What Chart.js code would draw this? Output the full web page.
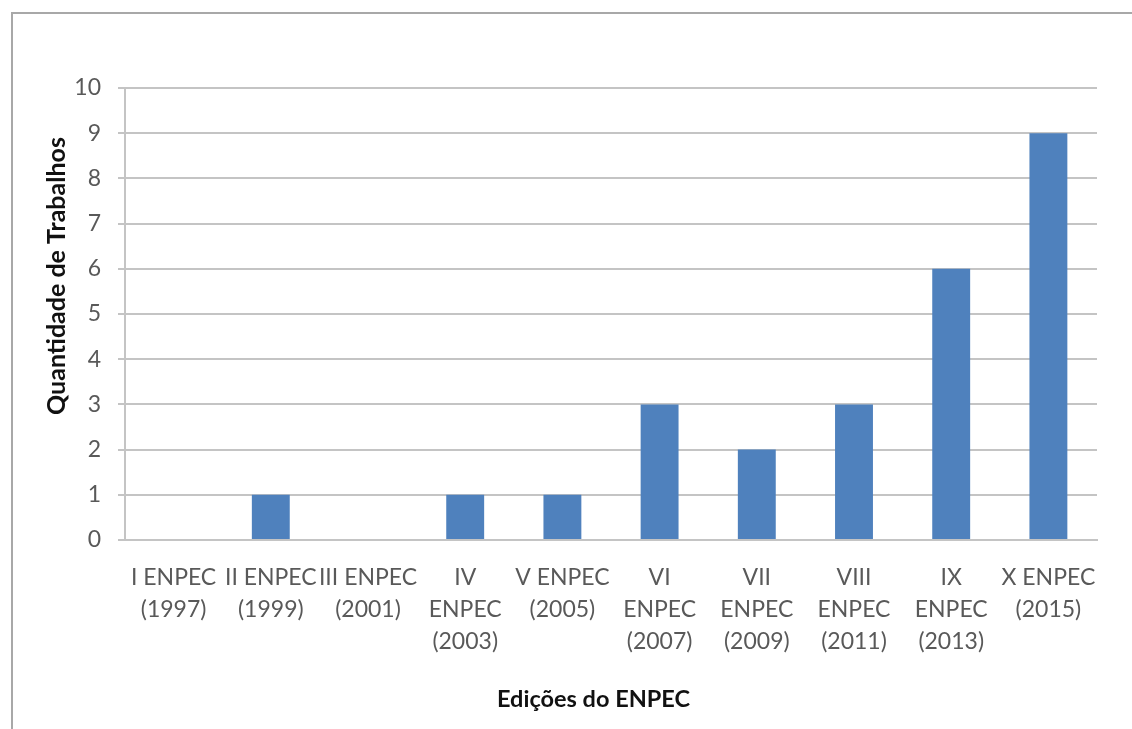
<!DOCTYPE html>
<html>
<head>
<meta charset="utf-8">
<script src="https://cdn.jsdelivr.net/npm/chart.js@4/dist/chart.umd.min.js"></script>
<style>
  html, body { margin: 0; padding: 0; background: #fff; overflow: hidden; }
  #frame {
    position: absolute; left: 11px; top: 12px; width: 1400px; height: 1000px;
    border-left: 2px solid #a8a8a8; border-top: 2px solid #a8a8a8;
  }
  #wrap { position: absolute; left: 0; top: 0; width: 1132px; height: 729px; }
</style>
</head>
<body>
<div id="frame"></div>
<div id="wrap"><canvas id="chart" width="1132" height="729"></canvas></div>
<script>
// categories (multi-line labels)
const editions = [
  ['I ENPEC', '(1997)'],
  ['II ENPEC', '(1999)'],
  ['III ENPEC', '(2001)'],
  ['IV', 'ENPEC', '(2003)'],
  ['V ENPEC', '(2005)'],
  ['VI', 'ENPEC', '(2007)'],
  ['VII', 'ENPEC', '(2009)'],
  ['VIII', 'ENPEC', '(2011)'],
  ['IX', 'ENPEC', '(2013)'],
  ['X ENPEC', '(2015)'],
];

// quantidade de trabalhos per edition
const works = [0, 1, 0, 1, 1, 3, 2, 3, 6, 9];

// y axis
const yMin = 0;
const yMax = 10;
const yStep = 1;

const xTitle = 'Edições do ENPEC';
const yTitle = 'Quantidade de Trabalhos';

const gridColor = '#c4c4c4';
const tickColor = '#595959';

// axis titles sit a bit off-centre in the original, so draw them by hand
const axisTitles = {
  id: 'axisTitles',
  afterDraw(chart) {
    const { ctx, chartArea: area } = chart;
    ctx.save();
    ctx.fillStyle = '#111';
    ctx.textAlign = 'center';
    ctx.textBaseline = 'middle';

    ctx.font = 'bold 23.5px Lato';
    ctx.fillText(xTitle, area.left + (area.right - area.left) * 0.482, 699);

    ctx.font = 'bold 25px Lato';
    ctx.translate(57, area.top + (area.bottom - area.top) * 0.416);
    ctx.rotate(-Math.PI / 2);
    ctx.fillText(yTitle, 0, 0);
    ctx.restore();
  },
};

const ctx = document.getElementById('chart').getContext('2d');
new Chart(ctx, {
  type: 'bar',
  data: {
    labels: editions,
    datasets: [
      {
        label: yTitle,
        data: works,
        backgroundColor: '#4f81bd',
        borderWidth: 0,
        barPercentage: 0.39,
        categoryPercentage: 1,
      },
    ],
  },
  plugins: [axisTitles],
  options: {
    responsive: false,
    animation: false,
    layout: { padding: { left: 0, top: 88, right: 35, bottom: 0 } },
    plugins: {
      legend: { display: false },
      tooltip: { enabled: false },
    },
    scales: {
      x: {
        grid: { display: false, drawTicks: false },
        border: { display: true, color: gridColor, width: 2 },
        ticks: {
          color: tickColor,
          font: { family: 'Lato', size: 23, lineHeight: 1.39 },
          padding: 22,
          autoSkip: false,
          maxRotation: 0,
        },
        afterFit: (scale) => {
          scale.height = 189;
        },
      },
      y: {
        min: yMin,
        max: yMax,
        grid: { color: gridColor, lineWidth: 2, tickLength: 7 },
        border: { display: true, color: gridColor, width: 2 },
        ticks: {
          stepSize: yStep,
          color: tickColor,
          font: { family: 'Lato', size: 23 },
          padding: 17,
        },
        afterFit: (scale) => {
          scale.width = 125;
        },
      },
    },
  },
});
</script>
</body>
</html>
